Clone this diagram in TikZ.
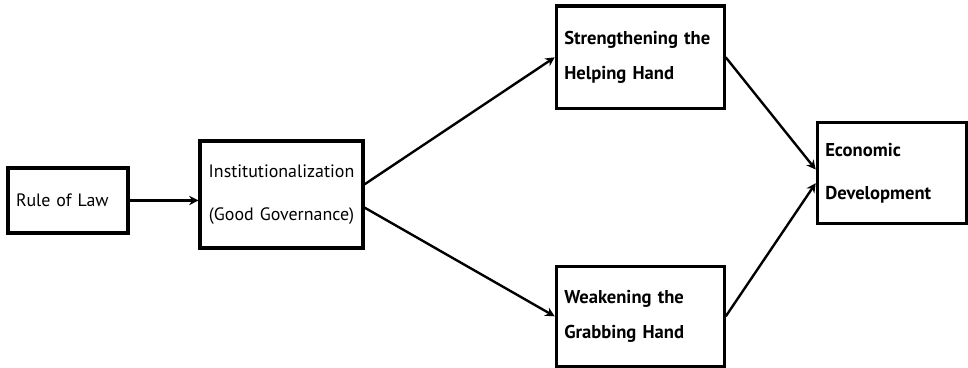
\documentclass[tikz,border=0pt]{standalone}
\usepackage{fontspec}
\setmainfont{PT Sans}
\usetikzlibrary{arrows.meta, positioning}

\begin{document}
\begin{tikzpicture}[
        % Estilo para las cajas
        box/.style={
                rectangle,
                draw=black,
                line width=2.4pt,
                inner xsep=6pt,
                align=left,
                font=\fontsize{13.5}{27}\selectfont
            },
        % Cajas en negrita
        boldbox/.style={
                box,
                font=\fontsize{14}{27}\selectfont\bfseries
            },
        % Flechas
        arrow/.style={
                -{Stealth[length=7pt,width=7pt]},
                line width=1.8pt,
                color=black
            }
    ]

    % Margenes
    \useasboundingbox (-1.799,-4.432) rectangle (23.815,5.305);

    % Cajas
    \node[box, text width=2.75cm, minimum height=1.72cm] (rule) {Rule of Law};
    \node[box, text width=3.89cm, minimum height=2.83cm, align=center,
        right=1.825cm of rule, yshift=0.159cm] (inst)
        {Institutionalization\\[5pt](Good Governance)};
    \node[boldbox, text width=4.02cm, minimum height=2.72cm,
        above right=0.77cm and 5.03cm of inst] (help)
        {Strengthening the\\Helping Hand};
    \node[boldbox, text width=4.02cm, minimum height=2.65cm,
        below right=0.40cm and 5.03cm of inst] (grab)
        {Weakening the\\Grabbing Hand};
    \node[boldbox, text width=3.52cm, minimum height=2.67cm,
        right=2.38cm of help, yshift=-3.07cm] (econ)
        {Economic\\[5pt]Development};

    % Flechas
    \draw[arrow] (rule.east) -- (rule.east -| inst.west);
    \draw[arrow] (inst.7) -- (help.west);
    \draw[arrow] (inst.-9) -- (grab.west);
    \draw[arrow] (help.east) -- ([yshift=0.1cm]econ.west);
    \draw[arrow] (grab.east) -- ([yshift=-0.26cm]econ.west);

\end{tikzpicture}
\end{document}
